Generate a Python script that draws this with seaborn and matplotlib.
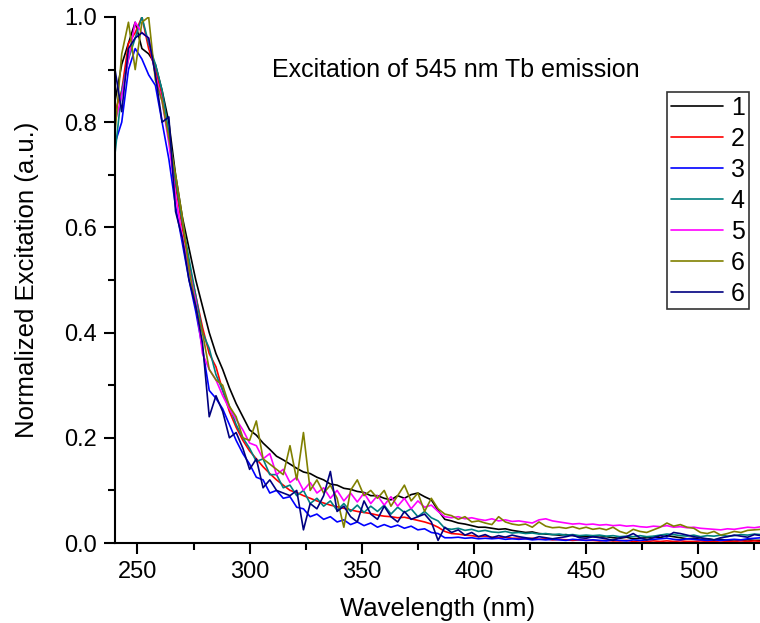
import numpy as np
import pandas as pd
import matplotlib
matplotlib.use("Agg")
import matplotlib.pyplot as plt
import seaborn as sns
from matplotlib.ticker import MultipleLocator

wavelength = list(range(240, 529, 3))

s1 = [0.84, 0.91, 0.95, 0.99, 0.94, 0.93, 0.91, 0.86, 0.80, 0.70,
      0.62, 0.56, 0.50, 0.45, 0.40, 0.36, 0.33, 0.295, 0.265, 0.24,
      0.215, 0.205, 0.19, 0.178, 0.165, 0.158, 0.15, 0.142, 0.135, 0.132,
      0.125, 0.12, 0.112, 0.11, 0.104, 0.102, 0.098, 0.096, 0.09, 0.09,
      0.085, 0.082, 0.09, 0.085, 0.092, 0.095, 0.088, 0.082, 0.062, 0.045,
      0.042, 0.038, 0.036, 0.033, 0.03, 0.03, 0.028, 0.026, 0.027, 0.024,
      0.022, 0.02, 0.021, 0.018, 0.017, 0.016, 0.015, 0.016, 0.014, 0.013,
      0.012, 0.012, 0.011, 0.012, 0.01, 0.009, 0.011, 0.008, 0.009, 0.01,
      0.012, 0.01, 0.014, 0.012, 0.01, 0.008, 0.009, 0.007, 0.008, 0.006,
      0.007, 0.005, 0.006, 0.005, 0.006, 0.005, 0.005]

s2 = [0.82, 0.86, 0.95, 0.97, 1.00, 0.94, 0.90, 0.85, 0.77, 0.68,
      0.60, 0.53, 0.47, 0.41, 0.36, 0.335, 0.29, 0.25, 0.22, 0.195,
      0.175, 0.16, 0.145, 0.132, 0.12, 0.11, 0.10, 0.096, 0.09, 0.085,
      0.08, 0.076, 0.072, 0.069, 0.066, 0.063, 0.06, 0.058, 0.056, 0.053,
      0.051, 0.05, 0.048, 0.049, 0.046, 0.043, 0.04, 0.036, 0.03, 0.022,
      0.018, 0.017, 0.015, 0.014, 0.012, 0.013, 0.011, 0.01, 0.011, 0.009,
      0.009, 0.008, 0.009, 0.007, 0.008, 0.006, 0.007, 0.006, 0.005, 0.006,
      0.005, 0.005, 0.004, 0.005, 0.004, 0.004, 0.005, 0.003, 0.004, 0.003,
      0.004, 0.003, 0.004, 0.003, 0.004, 0.003, 0.003, 0.004, 0.003, 0.003,
      0.004, 0.003, 0.003, 0.004, 0.003, 0.004, 0.003]

s3 = [0.76, 0.80, 0.90, 0.94, 0.92, 0.89, 0.87, 0.80, 0.73, 0.64,
      0.57, 0.50, 0.44, 0.37, 0.29, 0.275, 0.255, 0.225, 0.195, 0.17,
      0.15, 0.125, 0.12, 0.095, 0.10, 0.085, 0.088, 0.068, 0.065, 0.05,
      0.055, 0.045, 0.05, 0.04, 0.044, 0.035, 0.04, 0.033, 0.038, 0.03,
      0.035, 0.03, 0.034, 0.028, 0.032, 0.025, 0.027, 0.02, 0.018, 0.01,
      0.01, 0.011, 0.009, 0.01, 0.008, 0.009, 0.008, 0.009, 0.007, 0.008,
      0.007, 0.008, 0.006, 0.007, 0.006, 0.007, 0.006, 0.005, 0.007, 0.006,
      0.005, 0.006, 0.005, 0.004, 0.006, 0.005, 0.004, 0.006, 0.005, 0.006,
      0.007, 0.008, 0.009, 0.007, 0.006, 0.008, 0.007, 0.006, 0.005, 0.006,
      0.005, 0.006, 0.007, 0.006, 0.008, 0.009, 0.01]

s4 = [0.74, 0.86, 0.92, 0.96, 1.00, 0.95, 0.91, 0.86, 0.78, 0.69,
      0.61, 0.54, 0.47, 0.40, 0.37, 0.32, 0.29, 0.26, 0.225, 0.20,
      0.18, 0.155, 0.16, 0.13, 0.13, 0.105, 0.11, 0.09, 0.10, 0.075,
      0.085, 0.07, 0.08, 0.062, 0.075, 0.06, 0.072, 0.058, 0.07, 0.06,
      0.072, 0.055, 0.068, 0.058, 0.065, 0.05, 0.06, 0.048, 0.042, 0.028,
      0.026, 0.028, 0.024, 0.026, 0.022, 0.024, 0.021, 0.02, 0.022, 0.019,
      0.02, 0.018, 0.019, 0.017, 0.018, 0.016, 0.017, 0.015, 0.016, 0.014,
      0.015, 0.014, 0.015, 0.013, 0.014, 0.012, 0.013, 0.012, 0.014, 0.012,
      0.013, 0.015, 0.017, 0.016, 0.014, 0.013, 0.015, 0.012, 0.014, 0.013,
      0.015, 0.013, 0.014, 0.016, 0.015, 0.017, 0.016]

s5 = [0.80, 0.85, 0.92, 0.99, 0.97, 0.96, 0.89, 0.84, 0.76, 0.66,
      0.58, 0.52, 0.46, 0.36, 0.33, 0.31, 0.28, 0.255, 0.235, 0.215,
      0.19, 0.185, 0.16, 0.17, 0.13, 0.14, 0.115, 0.125, 0.10, 0.115,
      0.095, 0.105, 0.085, 0.10, 0.08, 0.095, 0.078, 0.095, 0.075, 0.09,
      0.072, 0.088, 0.07, 0.085, 0.065, 0.08, 0.068, 0.072, 0.06, 0.05,
      0.048, 0.05, 0.046, 0.048, 0.045, 0.043, 0.046, 0.042, 0.044, 0.041,
      0.042, 0.04, 0.038, 0.044, 0.046, 0.042, 0.04, 0.038, 0.036, 0.037,
      0.035, 0.036, 0.034, 0.035, 0.033, 0.034, 0.032, 0.033, 0.031, 0.03,
      0.032, 0.031, 0.033, 0.03, 0.031, 0.029, 0.03, 0.028, 0.027, 0.026,
      0.025, 0.027, 0.026, 0.028, 0.03, 0.029, 0.031]

s6 = [0.78, 0.93, 0.99, 0.90, 0.99, 1.00, 0.88, 0.84, 0.77, 0.70,
      0.62, 0.52, 0.45, 0.40, 0.33, 0.31, 0.30, 0.26, 0.24, 0.20,
      0.195, 0.232, 0.16, 0.15, 0.14, 0.13, 0.185, 0.12, 0.21, 0.10,
      0.12, 0.095, 0.11, 0.085, 0.03, 0.10, 0.12, 0.09, 0.10, 0.085,
      0.10, 0.07, 0.09, 0.11, 0.08, 0.095, 0.06, 0.085, 0.065, 0.055,
      0.052, 0.045, 0.05, 0.04, 0.042, 0.038, 0.035, 0.05, 0.04, 0.036,
      0.034, 0.036, 0.03, 0.04, 0.032, 0.029, 0.03, 0.028, 0.031, 0.027,
      0.03, 0.026, 0.028, 0.025, 0.03, 0.022, 0.018, 0.026, 0.022, 0.02,
      0.025, 0.03, 0.038, 0.032, 0.035, 0.03, 0.028, 0.02, 0.018, 0.022,
      0.015, 0.018, 0.022, 0.02, 0.024, 0.025, 0.026]

s7 = [0.90, 0.82, 0.94, 0.96, 0.97, 0.96, 0.89, 0.80, 0.81, 0.63,
      0.58, 0.50, 0.45, 0.38, 0.24, 0.28, 0.25, 0.20, 0.21, 0.18,
      0.14, 0.16, 0.105, 0.12, 0.10, 0.095, 0.09, 0.10, 0.025, 0.075,
      0.065, 0.09, 0.136, 0.06, 0.07, 0.05, 0.04, 0.08, 0.055, 0.045,
      0.07, 0.05, 0.04, 0.06, 0.045, 0.05, 0.055, 0.04, 0.005, 0.03,
      0.02, 0.025, 0.015, 0.02, 0.012, 0.016, 0.01, 0.014, 0.011, 0.015,
      0.012, 0.01, 0.008, 0.012, 0.01, 0.008, 0.01, 0.012, 0.015, 0.01,
      0.009, 0.012, 0.01, 0.008, 0.005, 0.01, 0.012, 0.018, 0.01, 0.006,
      0.01, 0.014, 0.012, 0.02, 0.018, 0.015, 0.012, 0.01, 0.008, 0.006,
      0.01, 0.012, 0.015, 0.013, 0.011, 0.016, 0.014]

labels = ["1", "2", "3", "4", "5", "6", "6"]
colors = ["#000000", "#ff0000", "#0000ff", "#008080", "#ff00ff", "#808000", "#000080"]
series = [s1, s2, s3, s4, s5, s6, s7]

sns.set_style("ticks")
plt.rcParams["font.family"] = ["Liberation Sans", "DejaVu Sans"]
plt.rcParams["text.color"] = "black"
plt.rcParams["axes.labelcolor"] = "black"
plt.rcParams["xtick.color"] = "black"
plt.rcParams["ytick.color"] = "black"

fig = plt.figure(figsize=(7.6, 6.23), dpi=100)
ax = fig.add_axes([115/760, 1 - 543/623, 645/760, 526/623])

for lab, col, ys in zip(labels, colors, series):
    df = pd.DataFrame({"x": wavelength, "y": ys})
    sns.lineplot(data=df, x="x", y="y", ax=ax, color=col, label=lab,
                 linewidth=1.2, estimator=None, sort=False)

ax.set_xlim(240, 527.5)
ax.set_ylim(0, 1.0)
ax.xaxis.set_major_locator(MultipleLocator(50))
ax.xaxis.set_minor_locator(MultipleLocator(25))
ax.yaxis.set_major_locator(MultipleLocator(0.2))
ax.yaxis.set_minor_locator(MultipleLocator(0.1))
ax.yaxis.set_major_formatter(matplotlib.ticker.FormatStrFormatter("%.1f"))
for s in ["top", "right"]:
    ax.spines[s].set_visible(False)
for s in ["left", "bottom"]:
    ax.spines[s].set_linewidth(1.5)
    ax.spines[s].set_color("black")
ax.tick_params(which="major", direction="out", length=8, width=1.5, labelsize=17,
               colors="black", pad=5)
ax.tick_params(which="minor", direction="out", length=5, width=1.5, colors="black")
ax.set_xlabel("Wavelength (nm)", fontsize=18.5, labelpad=10, color="black")
ax.set_ylabel("Normalized Excitation (a.u.)", fontsize=18.5, labelpad=18, color="black")

fig.text(456/760, 1 - 70/623, "Excitation of 545 nm Tb emission", fontsize=18,
         ha="center", va="center", color="black")

leg = ax.legend(loc="upper left", bbox_to_anchor=((667 - 115) / 645, (543 - 92) / 526),
                fontsize=18, frameon=True, fancybox=False, edgecolor="black",
                handlelength=2.1, handletextpad=0.3, labelspacing=0.28,
                borderpad=0.15, borderaxespad=0)
leg.get_frame().set_linewidth(1.2)
for t in leg.get_texts():
    t.set_color("black")

fig.savefig("out.png", dpi=100)
